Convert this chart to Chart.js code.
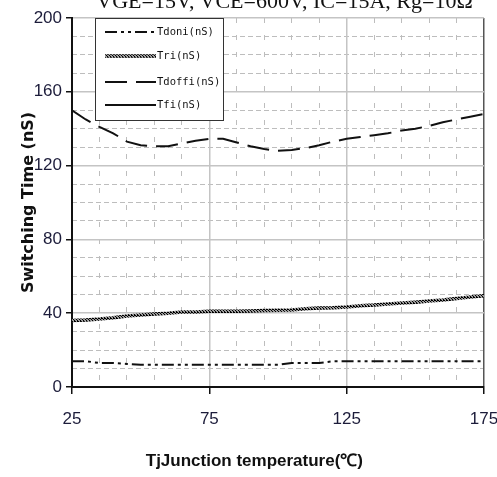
<!DOCTYPE html>
<html>
<head>
<meta charset="utf-8">
<script src="https://cdn.jsdelivr.net/npm/chart.js@4"></script>
<style>
  html, body { margin: 0; padding: 0; background: #fff; overflow: hidden; }
  #wrap { position: relative; width: 497px; height: 477px; }
  #cond { position: absolute; top: -12px; left: 0; width: 569px; text-align: center;
          font: 22px 'Liberation Serif', serif; color: #111; white-space: nowrap; }
</style>
</head>
<body>
<div id="wrap">
  <canvas id="swChart" width="497" height="477"></canvas>
  <div id="cond">VGE=15V, VCE=600V, IC=15A, Rg=10Ω</div>
</div>
<script>
// data
var temps = [25, 30, 35, 40, 45, 50, 55, 60, 65, 70, 75, 80, 85, 90, 95, 100,
             105, 110, 115, 120, 125, 130, 135, 140, 145, 150, 155, 160, 165, 170, 175];
var tdoni = [14, 14, 13, 13, 12.5, 12, 12, 12, 12, 12, 12, 12, 12, 12, 12, 12,
             13, 13, 13, 14, 14, 14, 14, 14, 14, 14, 14, 14, 14, 14, 14];
var tri = [36, 36.3, 36.8, 37.5, 38.5, 39, 39.6, 40, 40.6, 40.6, 41, 41, 41, 41.2, 41.4, 41.6,
           41.8, 42.4, 42.8, 43, 43.4, 44, 44.4, 45, 45.5, 46, 46.6, 47.2, 48, 48.8, 49.5];
var tdoffi = [150, 145, 141, 137.5, 133, 131, 130.5, 130.5, 132, 133.5, 134.5, 134.5, 132.5, 130.5, 129, 128,
              128.5, 129.5, 131, 133, 134.5, 135.5, 136.5, 137.5, 139, 140, 141.5, 143.5, 145, 146.5, 148];
var tfi = []; // only shown in the legend, no curve visible in the plot

var xMajor = [25, 75, 125, 175];
var xMinor = [35, 45, 55, 65, 85, 95, 105, 115, 135, 145, 155, 165];
var yMajor = [0, 40, 80, 120, 160, 200];
var yMinor = [10, 20, 30, 50, 60, 70, 90, 100, 110, 130, 140, 150, 170, 180, 190];

function pts(ys) {
    return ys.map(function(v, i) { return { x: temps[i], y: v }; });
}

// hatched look of the Tri curve
var pc = document.createElement('canvas');
pc.width = 3; pc.height = 3;
var pctx = pc.getContext('2d');
pctx.fillStyle = '#9a9a9a';
pctx.fillRect(0, 0, 3, 3);
pctx.fillStyle = '#000';
pctx.fillRect(0, 0, 1, 1); pctx.fillRect(1, 1, 1, 1); pctx.fillRect(2, 2, 1, 1);
pctx.fillRect(2, 0, 1, 1);
var hatch = pctx.createPattern(pc, 'repeat');

var tickFont = { family: "'Liberation Sans', Arial, sans-serif", size: 17 };

function setTicks(list) {
    return function(scale) { scale.ticks = list.map(function(v) { return { value: v }; }); };
}

var insideLegend = {
    id: 'insideLegend',
    afterDatasetsDraw: function(chart) {
        var c = chart.ctx;
        var x0 = 95, y0 = 18, w = 128, h = 102;
        c.save();
        c.fillStyle = '#fff';
        c.fillRect(x0, y0, w, h);
        c.strokeStyle = '#333';
        c.lineWidth = 1;
        c.strokeRect(x0 + 0.5, y0 + 0.5, w, h);
        var rows = [32, 56, 82, 105];
        c.font = "10.5px 'DejaVu Sans Mono', monospace";
        c.textBaseline = 'middle';
        chart.data.datasets.forEach(function(ds, i) {
            var y = rows[i];
            c.beginPath();
            c.setLineDash(ds.borderDash || []);
            c.strokeStyle = ds.borderColor;
            c.lineWidth = ds.borderWidth;
            c.moveTo(105, y);
            c.lineTo(156, y);
            c.stroke();
            c.setLineDash([]);
            c.fillStyle = '#111';
            c.fillText(ds.label, 157, y);
        });
        c.restore();
    }
};

var ctx = document.getElementById('swChart').getContext('2d');
var swChart = new Chart(ctx, {
    type: 'line',
    data: {
        datasets: [
            { label: 'Tdoni(nS)', data: pts(tdoni), borderColor: '#111', borderWidth: 2, borderDash: [12, 4, 3, 4, 3, 4] },
            { label: 'Tri(nS)', data: pts(tri), borderColor: hatch, borderWidth: 3.5 },
            { label: 'Tdoffi(nS)', data: pts(tdoffi), borderColor: '#111', borderWidth: 2, borderDash: [22, 9] },
            { label: 'Tfi(nS)', data: tfi, borderColor: '#111', borderWidth: 2 }
        ]
    },
    options: {
        responsive: false,
        animation: false,
        events: [],
        layout: { padding: { top: 18, right: 0, left: 0, bottom: 0 } },
        elements: { point: { radius: 0 }, line: { tension: 0 } },
        plugins: { legend: { display: false }, tooltip: { enabled: false } },
        scales: {
            x2: {
                type: 'linear', position: 'bottom', min: 25, max: 175,
                afterBuildTicks: setTicks(xMinor),
                afterFit: function(s) { s.height = 0; s.paddingLeft = 0; s.paddingRight = 0; },
                ticks: { display: false },
                grid: { color: '#bdbdbd', lineWidth: 1, drawTicks: false },
                border: { display: false, dash: [5, 12] }
            },
            y2: {
                type: 'linear', position: 'left', min: 0, max: 200,
                afterBuildTicks: setTicks(yMinor),
                afterFit: function(s) { s.width = 0; s.paddingTop = 0; s.paddingBottom = 0; },
                ticks: { display: false },
                grid: { color: '#bdbdbd', lineWidth: 1, drawTicks: false },
                border: { display: false, dash: [5, 3] }
            },
            x: {
                type: 'linear', position: 'bottom', min: 25, max: 175,
                afterBuildTicks: setTicks(xMajor),
                afterFit: function(s) { s.height = 90; s.paddingLeft = 0; s.paddingRight = 13; },
                ticks: { font: tickFont, color: '#1c1c3a', padding: 15 },
                grid: {
                    color: function(c) { return c.tick && c.tick.value === 175 ? '#555' : '#c4c4c4'; },
                    lineWidth: 1.5, tickLength: 7, tickColor: '#111'
                },
                border: { color: '#111', width: 2 },
                title: {
                    display: true, text: 'TjJunction temperature(℃)          ', color: '#111',
                    font: { family: "'Liberation Sans', Arial, sans-serif", size: 17, weight: 'bold' },
                    padding: { top: 0, bottom: 5 }
                }
            },
            y: {
                type: 'linear', position: 'left', min: 0, max: 200,
                afterBuildTicks: setTicks(yMajor),
                afterFit: function(s) { s.width = 72; },
                ticks: { font: tickFont, color: '#1c1c3a', padding: 4 },
                grid: { color: '#c4c4c4', lineWidth: 1.5, tickLength: 6, tickColor: '#111' },
                border: { color: '#111', width: 2 },
                title: {
                    display: true, text: 'Switching Time (nS)', color: '#111',
                    font: { family: "'DejaVu Sans', sans-serif", size: 16, weight: 'bold' },
                    padding: { top: 19, bottom: 0 }
                }
            }
        }
    },
    plugins: [insideLegend]
});
</script>
</body>
</html>
